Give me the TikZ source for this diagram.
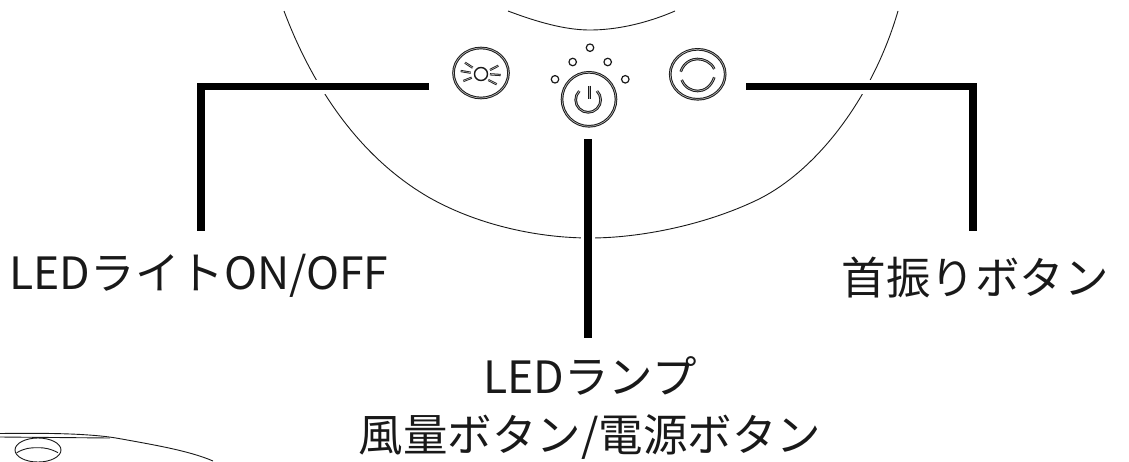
\documentclass[tikz,border=0pt]{standalone}
\usepackage{fontspec}
\setmainfont{Noto Sans CJK JP}
\usetikzlibrary{calc}
\usetikzlibrary{positioning}
\usetikzlibrary{shapes.geometric}
\tikzset{
	leader/.style={line width=7.5pt, line cap=butt, line join=miter},
	halo/.style={line width=14pt, color=white},
	outline/.style={line width=0.9pt, color=black!90},
	twin/.style={draw=black!90, line width=0.95pt, double=white!70!black, double distance=0.7pt},
	ledring/.style={circle, draw=black!90, line width=1.2pt, minimum size=7.5pt, inner sep=0pt},
	keyring/.style={ellipse, twin, inner sep=0pt},
	label/.style={font=\fontsize{44.5}{58}\selectfont, align=center, inner sep=0pt, text=black!90}
}
\begin{document}
\begin{tikzpicture}[x=1pt,y=-1pt]
	\useasboundingbox (0,0) rectangle (1129,461);
	% body
	\draw[outline] (284,11) .. controls (310,80) and (355,155) .. (430,198) .. controls (480,226) and (540,238) .. (590,238) .. controls (640,238) and (705,225) .. (757,200) .. controls (815,172) and (872,100) .. (898,11);
	\draw[outline] (508,11) .. controls (545,25) and (570,30) .. (590,30) .. controls (615,30) and (645,24) .. (675,11);
	% base
	\draw[outline] (0,433.5) .. controls (40,433) and (90,433) .. (120,438.7) .. controls (155,445) and (190,451) .. (213,461);
	\draw[outline] (0,437) -- (110,438);
	\draw[outline] (38,450) ellipse[x radius=23, y radius=12];
	\draw[outline] (16.7,452.7) .. controls (25,448) and (30,447.7) .. (38,447.7) .. controls (46,447.7) and (51,449) .. (58,452.7);
	% buttons
	\node[keyring, minimum width=55pt, minimum height=50pt] (lightKey) at (481,73) {};
	\node[ledring, minimum size=13pt, line width=1.4pt] (lightSun) at (481,74) {};
	\foreach \xa/\ya/\xb/\yb in {465/62.7/472.7/67.7, 460.7/71/470.7/72.7, 463.3/81/471.7/77.7, 498.3/65.7/490/70, 500.7/75/490/74.3, 496.7/84.3/488.3/80}
		\draw[twin, line width=0.8pt, double distance=0.6pt] (\xa,\ya) -- (\xb,\yb);
	\node[keyring, minimum width=54pt, minimum height=54pt] (powerKey) at (589,99.3) {};
	\draw[twin] (597,91) arc[start angle=-45, end angle=225, radius=12.5];
	\draw[twin] (589.3,85.7) -- (589.3,99.3);
	\foreach \x/\y [count=\i] in {590/47.7, 572.7/62, 607.7/62, 555/79.3, 625.3/79.3}
		\node[ledring] (led\i) at (\x,\y) {};
	\node[keyring, minimum width=55pt, minimum height=50pt] (swingKey) at (697.7,74.3) {};
	\draw[twin] (680.7,71.7) .. controls (684,62) and (692,59) .. (697.3,59) .. controls (704,59) and (711,62) .. (714.3,69);
	\draw[twin] (681.7,80) .. controls (685,88) and (692,91) .. (697.7,91) .. controls (704,91) and (711,87) .. (714.3,77.3);
	% leaders
	\coordinate (lightEnd) at (429,86.5);
	\coordinate (lightCorner) at (201,86.5);
	\coordinate (lightFoot) at (201,231);
	\coordinate (swingEnd) at (746,86.5);
	\coordinate (swingCorner) at (973,86.5);
	\coordinate (swingFoot) at (973,231);
	\coordinate (powerEnd) at (588,139);
	\coordinate (powerFoot) at (588,338);
	\draw[halo] (lightEnd) -- (lightCorner);
	\draw[halo] (swingEnd) -- (swingCorner);
	\draw[halo] (powerEnd) -- (powerFoot);
	\draw[leader] (lightEnd) -- (lightCorner) -- (lightFoot);
	\draw[leader] (swingEnd) -- (swingCorner) -- (swingFoot);
	\draw[leader] (powerEnd) -- (powerFoot);
	% labels
	\node[label] (lightLabel) at (199,276) {LEDライトON/OFF};
	\node[label] (swingLabel) at (975,278) {首振りボタン};
	\node[label] (powerLabel) at (590,408) {LEDランプ\\風量ボタン/電源ボタン};
\end{tikzpicture}
\end{document}
